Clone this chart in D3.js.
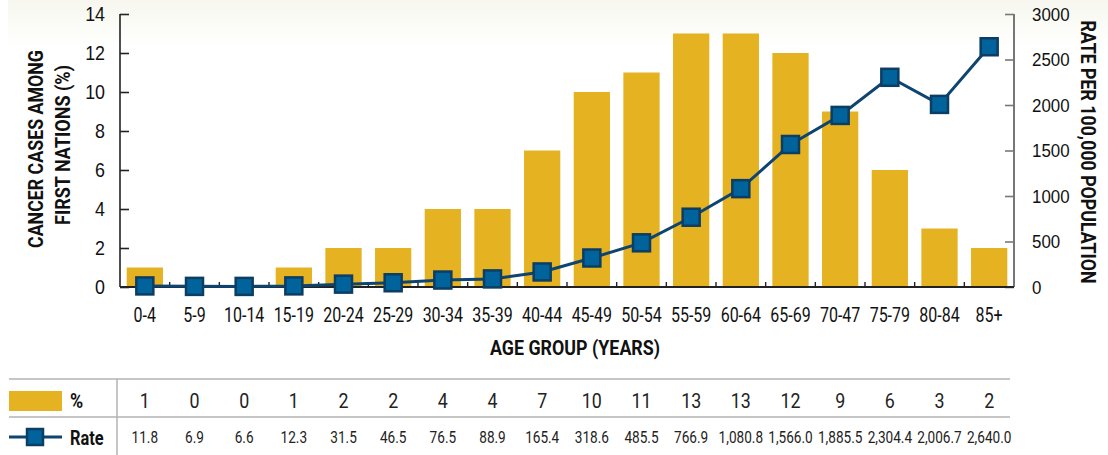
<!DOCTYPE html>
<html>
<head>
<meta charset="utf-8">
<script src="https://cdn.jsdelivr.net/npm/d3@7"></script>
<style>
  body { margin: 0; background: #fff; }
  svg { display: block; font-family: Roboto, "Liberation Sans", sans-serif; }
  .title { font-weight: bold; fill: #111; }
  /* condensed look: squeeze text horizontally around its own box */
  .cond { transform-box: fill-box; transform-origin: center; }
  .cond-l { transform-box: fill-box; transform-origin: left center; }
  .cond-r { transform-box: fill-box; transform-origin: right center; }
</style>
</head>
<body>
<div id="chart"></div>
<script>
// age groups (the "70-47" label is in the source as printed)
var ageGroups = ["0-4", "5-9", "10-14", "15-19", "20-24", "25-29", "30-34", "35-39", "40-44",
  "45-49", "50-54", "55-59", "60-64", "65-69", "70-47", "75-79", "80-84", "85+"];
// share of cancer cases (%)
var percentValues = [1, 0, 0, 1, 2, 2, 4, 4, 7, 10, 11, 13, 13, 12, 9, 6, 3, 2];
// rate per 100,000 population
var rateValues = [11.8, 6.9, 6.6, 12.3, 31.5, 46.5, 76.5, 88.9, 165.4, 318.6, 485.5, 766.9,
  1080.8, 1566.0, 1885.5, 2304.4, 2006.7, 2640.0];
var percentTicks = [0, 2, 4, 6, 8, 10, 12, 14];
var rateTicks = [0, 500, 1000, 1500, 2000, 2500, 3000];

var width = 1108, height = 455;
var margin = {top: 14, right: 94, bottom: 168, left: 120};
var plotW = width - margin.left - margin.right;   // 894
var plotH = height - margin.top - margin.bottom;  // 273

var barColor = "#e5b222", lineColor = "#0d4470", markFill = "#00639b", markStroke = "#0c3d63";

function squeeze(sel, k) { sel.style("transform", "scaleX(" + k + ")"); }

var svg = d3.select("#chart").append("svg")
  .attr("width", width)
  .attr("height", height);

// faint cream wash at the top of the picture
var grad = svg.append("defs").append("linearGradient")
  .attr("id", "wash").attr("x1", 0).attr("y1", 0).attr("x2", 0).attr("y2", 1);
grad.append("stop").attr("offset", "0%").attr("stop-color", "#f7f7ef");
grad.append("stop").attr("offset", "100%").attr("stop-color", "#ffffff");
svg.append("rect").attr("x", 8).attr("y", 0).attr("width", width - 8).attr("height", 48)
  .attr("fill", "url(#wash)");

var g = svg.append("g").attr("transform", "translate(" + margin.left + "," + margin.top + ")");

var x = d3.scaleBand()
  .domain(ageGroups)
  .range([0, plotW])
  .paddingInner(0.27)
  .paddingOuter(0.135);

var yPct = d3.scaleLinear().domain([0, 14]).range([plotH, 0]);
var yRate = d3.scaleLinear().domain([0, 3000]).range([plotH, 0]);

// bars
g.selectAll(".bar")
  .data(percentValues)
  .enter().append("rect")
    .attr("class", "bar")
    .attr("x", function(d, i) { return x(ageGroups[i]); })
    .attr("width", x.bandwidth())
    .attr("y", function(d) { return yPct(d); })
    .attr("height", function(d) { return plotH - yPct(d); })
    .attr("fill", barColor);

// left axis
var leftAxis = g.append("g")
  .call(d3.axisLeft(yPct).tickValues(percentTicks).tickSize(-9).tickPadding(15));
leftAxis.select(".domain").attr("d", "M0,0V" + plotH).attr("stroke", "#222").attr("stroke-width", 1.6);
leftAxis.selectAll(".tick line").attr("stroke", "#222").attr("stroke-width", 1.6);
leftAxis.selectAll(".tick text").attr("font-size", 21).attr("fill", "#111")
  .attr("class", "cond-r").call(squeeze, 0.85);

// right axis
var rightAxis = g.append("g")
  .attr("transform", "translate(" + plotW + ",0)")
  .call(d3.axisRight(yRate).tickValues(rateTicks).tickFormat(d3.format("d")).tickSize(-9).tickPadding(18));
rightAxis.select(".domain").attr("d", "M0,0V" + plotH).attr("stroke", "#555").attr("stroke-width", 1.6);
rightAxis.selectAll(".tick line").attr("stroke", "#777").attr("stroke-width", 1.6);
rightAxis.selectAll(".tick text").attr("font-size", 19).attr("fill", "#111")
  .attr("class", "cond-l").call(squeeze, 0.89);

// bottom axis: small ticks between bands
var bottom = g.append("g").attr("transform", "translate(0," + plotH + ")");
bottom.append("line").attr("x1", 0).attr("x2", plotW).attr("stroke", "#222").attr("stroke-width", 1.8);
bottom.selectAll(".sep")
  .data(ageGroups.slice(1))
  .enter().append("line")
    .attr("x1", function(d) { return x(d) - x.step() * x.paddingInner() / 2; })
    .attr("x2", function(d) { return x(d) - x.step() * x.paddingInner() / 2; })
    .attr("y1", 0).attr("y2", -5)
    .attr("stroke", "#222").attr("stroke-width", 1.4);
bottom.selectAll(".xlab")
  .data(ageGroups)
  .enter().append("text")
    .attr("class", "cond")
    .attr("x", function(d) { return x(d) + x.bandwidth() / 2; })
    .attr("y", 35)
    .attr("text-anchor", "middle")
    .attr("font-size", 20)
    .attr("fill", "#111")
    .text(function(d) { return d; })
    .call(squeeze, 0.8);

// rate line + markers
var line = d3.line()
  .x(function(d, i) { return x(ageGroups[i]) + x.bandwidth() / 2; })
  .y(function(d) { return yRate(d); });

g.append("path")
  .datum(rateValues)
  .attr("d", line)
  .attr("fill", "none")
  .attr("stroke", lineColor)
  .attr("stroke-width", 3);

g.selectAll(".mark")
  .data(rateValues)
  .enter().append("rect")
    .attr("x", function(d, i) { return x(ageGroups[i]) + x.bandwidth() / 2 - 8.5; })
    .attr("y", function(d) { return yRate(d) - 8.5; })
    .attr("width", 17).attr("height", 17)
    .attr("fill", markFill)
    .attr("stroke", markStroke)
    .attr("stroke-width", 2.5);

// axis titles (squeezed to the printed lengths)
function title(tx, ty, rot, len, txt) {
  svg.append("text").attr("class", "title")
    .attr("transform", "translate(" + tx + "," + ty + ") rotate(" + rot + ")")
    .attr("text-anchor", "middle").attr("font-size", 21)
    .attr("textLength", len).attr("lengthAdjust", "spacingAndGlyphs")
    .text(txt);
}
title(43, 149, -90, 198, "CANCER CASES AMONG");
title(70, 145, -90, 160, "FIRST NATIONS (%)");
title(1081, 152, 90, 263, "RATE PER 100,000 POPULATION");
title(575, 355, 0, 170, "AGE GROUP (YEARS)");

// data table under the chart
var table = svg.append("g");
var rowTop = 379, rowMid = 417;
[rowTop, rowMid].forEach(function(yy) {
  table.append("line").attr("x1", 9).attr("x2", 1010).attr("y1", yy).attr("y2", yy)
    .attr("stroke", "#b3b3b3").attr("stroke-width", 1.5);
});
table.append("line").attr("x1", 117).attr("x2", 117).attr("y1", rowTop).attr("y2", height)
  .attr("stroke", "#b3b3b3").attr("stroke-width", 1.5);

// legend: bar swatch
table.append("rect").attr("x", 9).attr("y", 391).attr("width", 53).attr("height", 20).attr("fill", barColor);
table.append("text").attr("class", "title cond-l").attr("x", 70).attr("y", 408).attr("font-size", 21)
  .text("%").call(squeeze, 0.85);
// legend: line + marker
table.append("line").attr("x1", 9).attr("x2", 62).attr("y1", 437).attr("y2", 437)
  .attr("stroke", lineColor).attr("stroke-width", 3);
table.append("rect").attr("x", 27).attr("y", 429).attr("width", 16).attr("height", 16)
  .attr("fill", markFill).attr("stroke", markStroke).attr("stroke-width", 2.5);
table.append("text").attr("class", "title cond-l").attr("x", 70).attr("y", 445).attr("font-size", 21)
  .text("Rate").call(squeeze, 0.78);

table.selectAll(".pct")
  .data(percentValues)
  .enter().append("text")
    .attr("class", "cond")
    .attr("x", function(d, i) { return margin.left + x(ageGroups[i]) + x.bandwidth() / 2; })
    .attr("y", 408)
    .attr("text-anchor", "middle").attr("font-size", 21).attr("fill", "#222")
    .text(function(d) { return d; })
    .call(squeeze, 0.85);

var fmt = d3.format(",.1f");
table.selectAll(".rate")
  .data(rateValues)
  .enter().append("text")
    .attr("class", "cond")
    .attr("x", function(d, i) { return margin.left + x(ageGroups[i]) + x.bandwidth() / 2; })
    .attr("y", 443)
    .attr("text-anchor", "middle").attr("font-size", 17).attr("fill", "#222")
    .text(function(d) { return fmt(d); })
    .call(squeeze, 0.8);
</script>
</body>
</html>
